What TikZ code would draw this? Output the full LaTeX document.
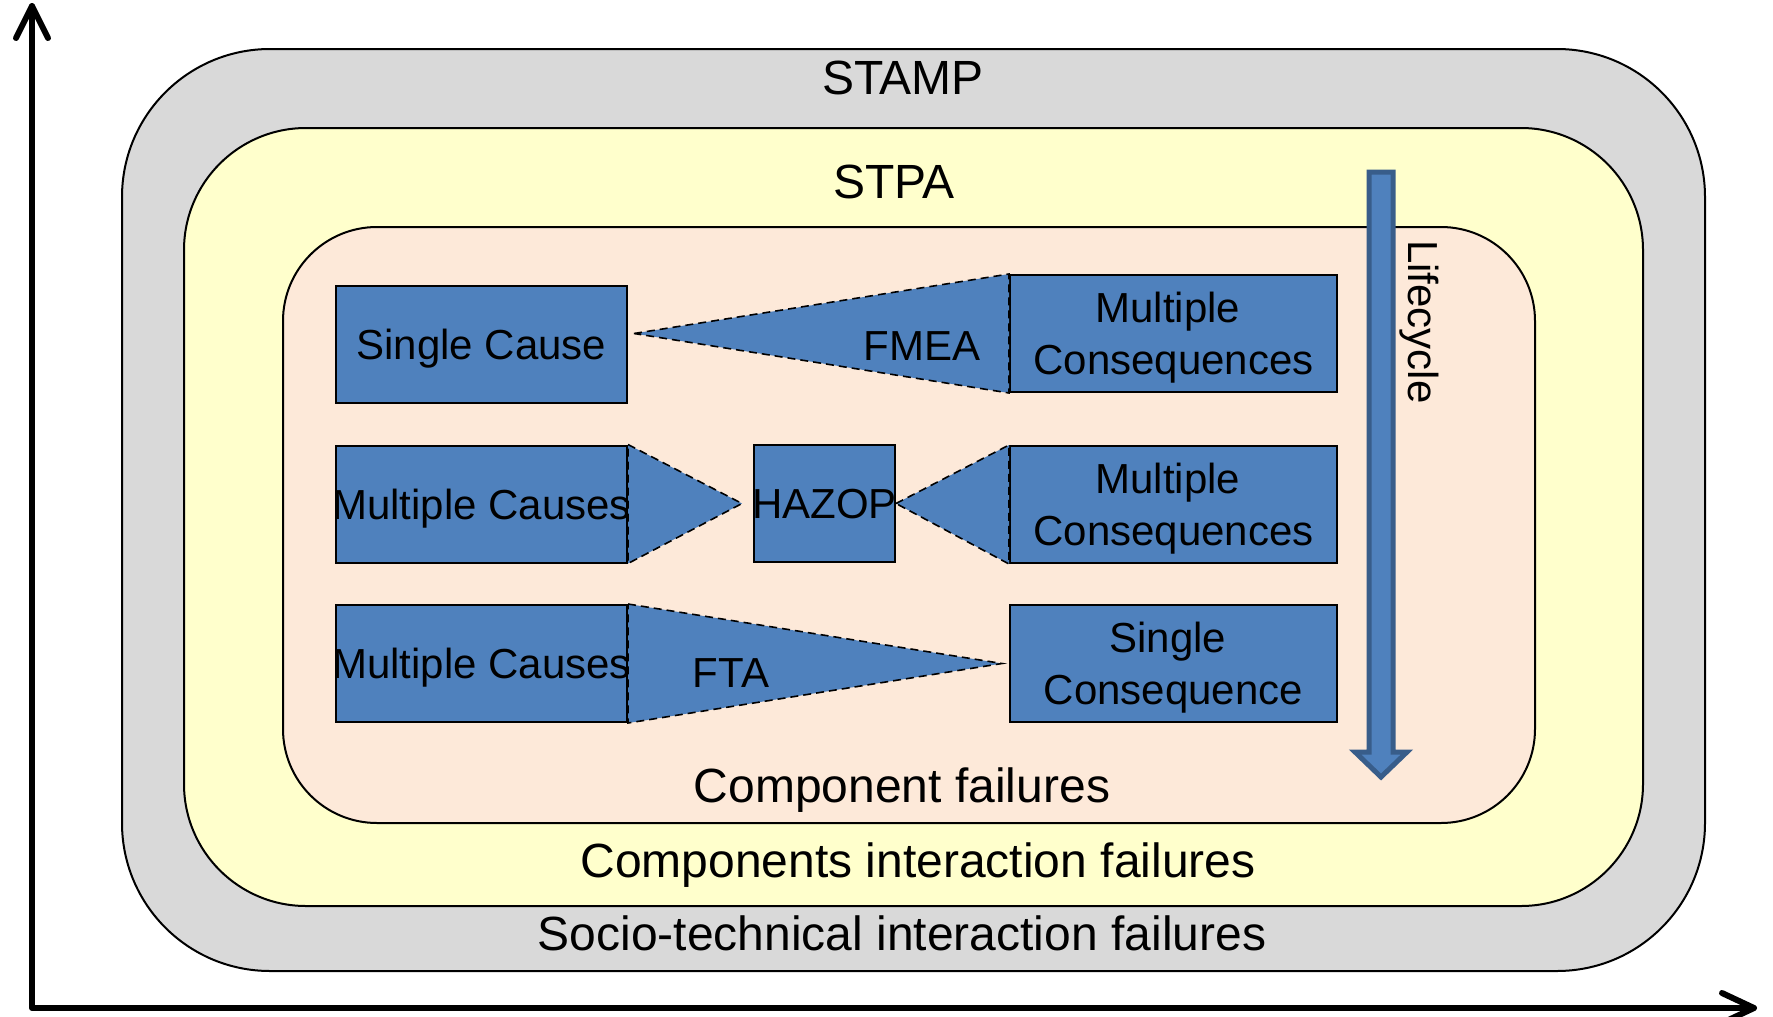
\documentclass[tikz,border=0pt]{standalone}
\usepackage{fontspec}
\setmainfont{Liberation Sans}
\usetikzlibrary{calc}
\definecolor{stampgray}{HTML}{D9D9D9}
\definecolor{stpayellow}{HTML}{FFFFCC}
\definecolor{comppeach}{HTML}{FDE9D9}
\definecolor{blockblue}{HTML}{4F81BD}
\definecolor{blockedge}{HTML}{385D8A}
% strut lowering the two-line labels inside their boxes
\newcommand{\toplinestrut}{\rule{0pt}{19.6pt}}
% trailing space kept at the end of a first line
\newcommand{\trailgap}{\kern5.8pt}

\begin{document}
\begin{tikzpicture}[x=0.5pt,y=-0.5pt,
  layer/.style={draw=black, line width=1pt},
  blockbox/.style={draw=black, line width=1pt, fill=blockblue, inner sep=0pt,
    align=center, font=\fontsize{21}{26}\selectfont},
  causebox/.style={blockbox, minimum width=145.5pt, minimum height=58.5pt},
  effectbox/.style={blockbox, minimum width=163.5pt, minimum height=58.5pt},
  wedge/.style={fill=blockblue, draw=black, line width=0.8pt, dash pattern=on 4pt off 2.5pt},
  wedgelabel/.style={font=\fontsize{21}{26}\selectfont, anchor=base},
  layertitle/.style={font=\fontsize{24}{29}\selectfont, anchor=base},
  axisline/.style={line width=3pt, line cap=round, line join=round},
]
\useasboundingbox[fill=white] (0,0) rectangle (1773,1017);

% nested scopes of analysis
\draw[layer, fill=stampgray, rounded corners=74pt] (122,49) rectangle (1705,971);
\draw[layer, fill=stpayellow, rounded corners=61pt] (184,128) rectangle (1643,906);
\draw[layer, fill=comppeach, rounded corners=47pt] (283,227) rectangle (1535,823);

\node[layertitle] (stamp) at (903,94) {STAMP};
\node[layertitle] (stpa) at (894,198) {STPA};
\node[layertitle] (compfail) at (902,802) {Component failures};
\node[layertitle] (interfail) at (918,877) {Components interaction failures};
\node[layertitle] (socio) at (902,950) {Socio-technical interaction failures};

% causes and consequences
\node[causebox, text depth=0pt] (sc) at (481.5,344.5) {Single Cause};
\node[causebox, text depth=0pt] (mc2) at (481.5,504) {\makebox[0pt]{Multiple Causes}};
\node[causebox, text depth=0pt] (mc3) at (481.5,663.5) {\makebox[0pt]{Multiple Causes}};
\node[effectbox] (mq1) at (1173.5,333.5) {\toplinestrut Multiple\trailgap\\Consequences};
\node[effectbox] (mq2) at (1173.5,504.5) {\toplinestrut Multiple\trailgap\\Consequences};
\node[effectbox] (sq3) at (1173.5,663.5) {\toplinestrut Single\trailgap\\Consequence};
\node[blockbox, minimum width=70.5pt, minimum height=58.5pt, text depth=0pt] (hz) at (824.5,503.5) {\makebox[0pt]{HAZOP}};

% analysis wedges
\draw[wedge] ([xshift=3pt]sc.east |- mq1.west) -- (mq1.north west) -- (mq1.south west) -- cycle;
\draw[wedge] (mc2.north east) -- ([xshift=-5.5pt]hz.west) -- (mc2.south east) -- cycle;
\draw[wedge] (hz.east) -- (mq2.north west) -- (mq2.south west) -- cycle;
\draw[wedge] (mc3.north east) -- ([xshift=-3.5pt]sq3.west) -- (mc3.south east) -- cycle;
\node[wedgelabel] (fmea) at (922,360) {FMEA};
\node[wedgelabel] (fta) at (731,687) {FTA};

% lifecycle arrow
\filldraw[fill=blockblue, draw=blockedge, line width=2.5pt]
  (1369,172) -- (1393,172) -- (1393,752) -- (1407,752) -- (1381,777)
  -- (1355,752) -- (1369,752) -- cycle;
\node[rotate=-90, anchor=base west, font=\fontsize{21}{26}\selectfont] (life) at (1408,233) {Lifecycle};

% axes
\coordinate (origin) at (32,1008);
\coordinate (yend) at (32,6);
\coordinate (xend) at (1754,1008);
\draw[axisline] (yend) -- (origin) -- (xend);
\draw[axisline] ($(yend)+(-16,32)$) -- (yend) -- ($(yend)+(16,32)$);
\draw[axisline] ($(xend)+(-32,-15)$) -- (xend) -- ($(xend)+(-32,15)$);
\end{tikzpicture}
\end{document}
